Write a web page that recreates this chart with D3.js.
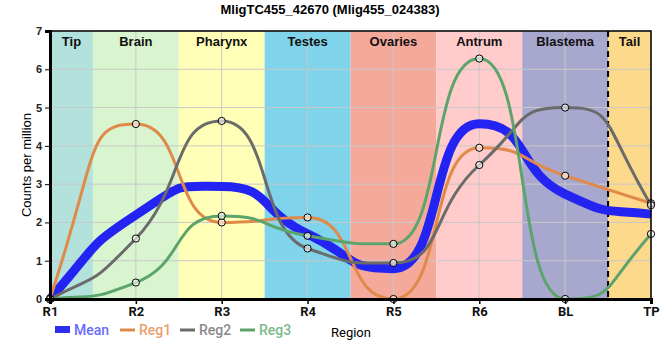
<!DOCTYPE html>
<html><head><meta charset="utf-8">
<script src="https://cdn.jsdelivr.net/npm/d3@7"></script>
<style>body{margin:0;background:#fff}svg{display:block}</style>
</head><body>
<svg id="c" width="660" height="360"></svg>
<script>
const categories = ["R1","R2","R3","R4","R5","R6","BL","TP"];
const reg1 = [0, 4.57, 2.0, 2.13, 0, 3.95, 3.22, 2.5];
const reg2 = [0, 1.58, 4.65, 1.32, 0.94, 3.5, 5.0, 2.45];
const reg3 = [0, 0.43, 2.17, 1.65, 1.44, 6.28, 0, 1.7];
const meanVals = categories.map((c,i)=>(reg1[i]+reg2[i]+reg3[i])/3);
const regionNames = ["Tip","Brain","Pharynx","Testes","Ovaries","Antrum","Blastema","Tail"];
const regionColors = ["#b3e2dc","#d9f5d0","#ffffb8","#7fd3ea","#f5a99b","#ffcbcb","#a8a8cf","#fdd98c"];
const yTicks = [0,1,2,3,4,5,6,7];

const svg = d3.select("#c");
const L=50, R=651, T=31, B=299;
const x = d3.scalePoint().domain(categories).range([L,R]);
const y = d3.scaleLinear().domain([0,7]).range([B,T]);
const step = x.step();

// smooth monotone bezier path (wide shoulders at extrema)
function smoothPath(vals){
  const px = vals.map((v,i)=>x(categories[i])), py = vals.map(v=>y(v));
  const n = px.length, s = [], m = [];
  for(let i=0;i<n-1;i++) s.push((py[i+1]-py[i])/(px[i+1]-px[i]));
  for(let i=1;i<n-1;i++){
    const s0=s[i-1], s1=s[i];
    m[i] = (Math.sign(s0)+Math.sign(s1))*Math.min(Math.abs(s0),Math.abs(s1),0.5*Math.abs((s0+s1)/2)) || 0;
  }
  m[0] = (3*s[0]-m[1])/2;
  m[n-1] = (3*s[n-2]-m[n-2])/2;
  const k = 0.58;
  let d = `M${px[0]},${py[0]}`;
  for(let i=0;i<n-1;i++){
    const h = px[i+1]-px[i];
    d += `C${px[i]+k*h},${py[i]+k*h*m[i]} ${px[i+1]-k*h},${py[i+1]-k*h*m[i+1]} ${px[i+1]},${py[i+1]}`;
  }
  return d;
}

// region bands
const g = svg.append("g");
regionNames.forEach((n,i)=>{
  const x0 = i===0 ? L : x(categories[i]) - step/2;
  const x1 = i===regionNames.length-1 ? R : x(categories[i]) + step/2;
  g.append("rect").attr("x",x0).attr("y",T).attr("width",x1-x0).attr("height",B-T).attr("fill",regionColors[i]);
});
// grid
yTicks.forEach(t=>{
  g.append("line").attr("x1",L).attr("x2",R).attr("y1",y(t)).attr("y2",y(t)).attr("stroke","#c8c8c8").attr("stroke-width",1);
});
categories.forEach(c=>{
  g.append("line").attr("x1",x(c)).attr("x2",x(c)).attr("y1",T).attr("y2",B).attr("stroke","#c8c8c8").attr("stroke-width",1);
});
// region labels
regionNames.forEach((n,i)=>{
  const x0 = i===0 ? L : x(categories[i]) - step/2;
  const x1 = i===regionNames.length-1 ? R : x(categories[i]) + step/2;
  g.append("text").attr("x",(x0+x1)/2).attr("y",46).attr("text-anchor","middle")
   .attr("font-family","Liberation Sans, Arial, sans-serif").attr("font-weight","bold").attr("font-size",13).attr("fill","#111").text(n);
});
// dashed separator
const xd = x("BL")+step/2;
svg.append("line").attr("x1",xd).attr("x2",xd).attr("y1",T).attr("y2",B).attr("stroke","#000").attr("stroke-width",2).attr("stroke-dasharray","6,4");

// lines
const series = [
  {name:"Reg1", vals:reg1, color:"#e08a4a", w:3},
  {name:"Reg2", vals:reg2, color:"#6b6b6b", w:3},
  {name:"Reg3", vals:reg3, color:"#5ca46c", w:3},
];
svg.append("path").attr("d",smoothPath(meanVals)).attr("fill","none").attr("stroke","#2424f2").attr("stroke-width",9);
series.forEach(s=>{
  svg.append("path").attr("d",smoothPath(s.vals)).attr("fill","none").attr("stroke",s.color).attr("stroke-width",s.w);
});
series.forEach(s=>{
  svg.append("g").selectAll("circle").data(s.vals).join("circle")
    .attr("cx",(d,i)=>x(categories[i])).attr("cy",d=>y(d)).attr("r",3.6)
    .attr("fill","#fff").attr("fill-opacity",0.6).attr("stroke","#000").attr("stroke-width",1);
});

// frame
svg.append("rect").attr("x",L).attr("y",T).attr("width",R-L).attr("height",B-T).attr("fill","none").attr("stroke","#000").attr("stroke-width",1.5);

// axes
const yAxis = svg.append("g").attr("transform",`translate(${L},0)`).call(d3.axisLeft(y).tickValues(yTicks).tickSize(5).tickFormat(d3.format("d")));
yAxis.select(".domain").attr("stroke-width",3);
yAxis.selectAll("text").attr("font-family","Liberation Sans, Arial, sans-serif").attr("font-size",11).attr("font-weight","bold").attr("fill","#222");
const xAxis = svg.append("g").attr("transform",`translate(0,${B})`).call(d3.axisBottom(x).tickSize(5).tickPadding(3));
xAxis.select(".domain").attr("stroke-width",3);
xAxis.selectAll(".tick line").attr("stroke-width",1.5);
xAxis.selectAll("text").attr("font-family","Roboto, sans-serif").attr("font-size",13).attr("font-weight","bold").attr("fill","#111");

// title
svg.append("text").attr("x",330).attr("y",14).attr("text-anchor","middle")
  .attr("font-family","Liberation Sans, Arial, sans-serif").attr("font-weight","bold").attr("font-size",13).text("MligTC455_42670 (Mlig455_024383)");
// y label
svg.append("text").attr("transform","translate(31,165) rotate(-90)").attr("text-anchor","middle")
  .attr("font-family","Liberation Sans, Arial, sans-serif").attr("font-size",13).text("Counts per million");

// legend
const leg = svg.append("g").attr("font-family","Roboto, sans-serif").attr("font-size",14).attr("font-weight","500");
leg.append("rect").attr("x",55).attr("y",326).attr("width",15).attr("height",7).attr("fill","#2e2ef0");
leg.append("text").attr("x",74).attr("y",335).attr("fill","#6a6aff").text("Mean");
const legItems = [{x:120,c:"#e08a4a",t:"#e8a070",n:"Reg1"},{x:180,c:"#6b6b6b",t:"#8a8a8a",n:"Reg2"},{x:240,c:"#5ca46c",t:"#7cba8a",n:"Reg3"}];
legItems.forEach(it=>{
  leg.append("line").attr("x1",it.x).attr("x2",it.x+15).attr("y1",330).attr("y2",330).attr("stroke",it.c).attr("stroke-width",3);
  leg.append("text").attr("x",it.x+19).attr("y",335).attr("fill",it.t).text(it.n);
});
leg.append("text").attr("x",331).attr("y",337).attr("font-weight","normal").attr("font-size",13).attr("font-family","Roboto, sans-serif").attr("fill","#000").text("Region");
</script>
</body></html>
